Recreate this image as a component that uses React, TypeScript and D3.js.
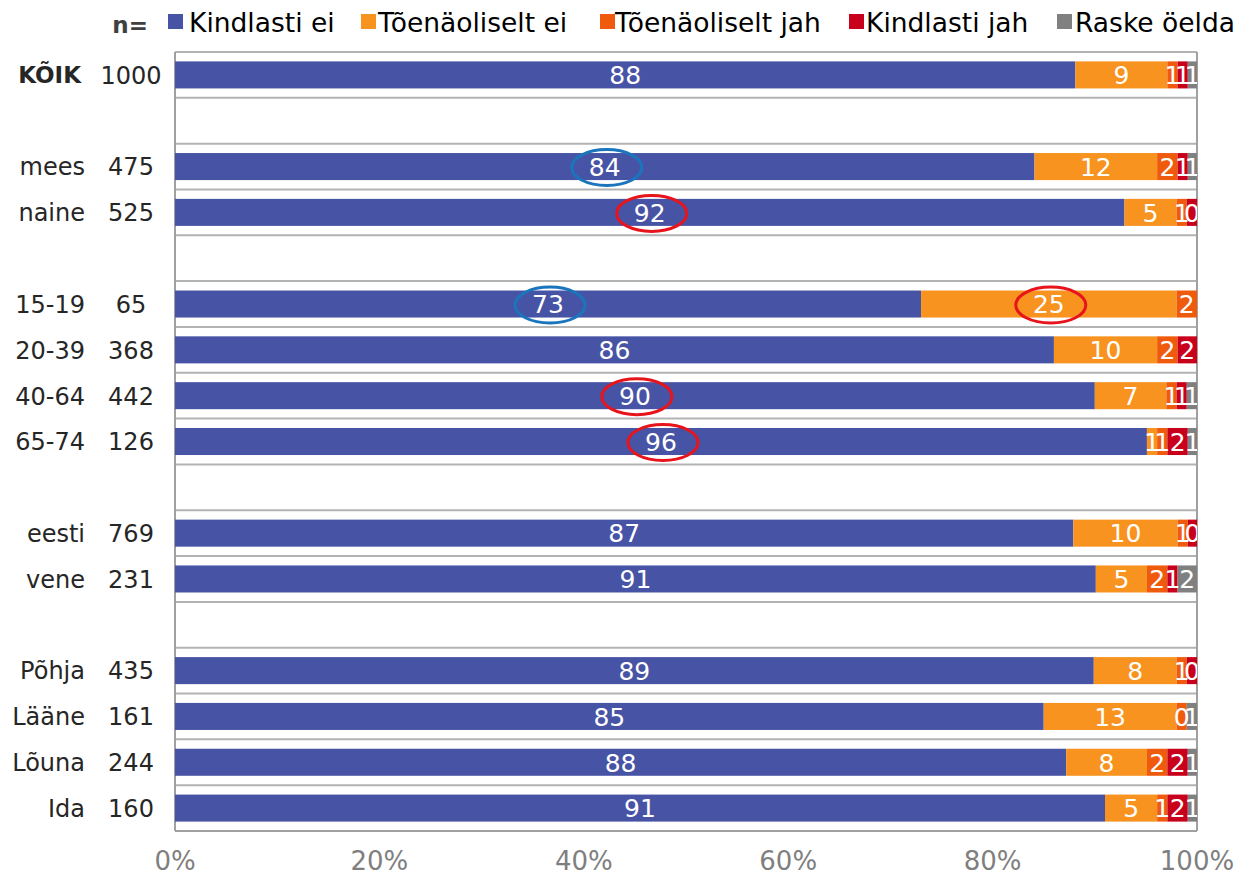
import React from "react";
import * as d3 from "d3";

const categories = ["KÕIK", "", "mees", "naine", "", "15-19", "20-39", "40-64", "65-74", "", "eesti", "vene", "", "Põhja", "Lääne", "Lõuna", "Ida"];
const nValues = ["1000", "", "475", "525", "", "65", "368", "442", "126", "", "769", "231", "", "435", "161", "244", "160"];

const seriesNames = ["Kindlasti ei", "Tõenäoliselt ei", "Tõenäoliselt jah", "Kindlasti jah", "Raske öelda"];
const seriesColors = ["#4754A5", "#F7931E", "#F05A0C", "#C9001C", "#808080"];

// estimated shares (segment widths)
const kindlastiEi = [88.1, null, 84.1, 92.9, null, 73.0, 86.0, 90.0, 95.1, null, 87.9, 90.1, null, 89.9, 85.0, 87.2, 91.0];
const toenaoliseltEi = [9.0, null, 12.0, 5.1, null, 25.0, 10.1, 7.0, 1.0, null, 10.2, 5.0, null, 8.1, 13.0, 7.9, 5.1];
const toenaoliseltJah = [1.0, null, 2.0, 1.0, null, 2.0, 2.0, 1.0, 1.0, null, 1.0, 2.0, null, 1.0, 1.0, 2.0, 1.0];
const kindlastiJah = [1.0, null, 1.0, 1.0, null, 0, 1.9, 1.0, 2.0, null, 0.9, 1.0, null, 1.0, 0, 2.0, 2.0];
const raskeOelda = [0.9, null, 0.9, 0, null, 0, 0, 1.0, 0.9, null, 0, 1.9, null, 0, 1.0, 0.9, 0.9];

// displayed data labels
const labelsKindlastiEi = ["88", "", "84", "92", "", "73", "86", "90", "96", "", "87", "91", "", "89", "85", "88", "91"];
const labelsToenaoliseltEi = ["9", "", "12", "5", "", "25", "10", "7", "1", "", "10", "5", "", "8", "13", "8", "5"];
const labelsToenaoliseltJah = ["1", "", "2", "1", "", "2", "2", "1", "1", "", "1", "2", "", "1", "0", "2", "1"];
const labelsKindlastiJah = ["1", "", "1", "0", "", "", "2", "1", "2", "", "0", "1", "", "0", "", "2", "2"];
const labelsRaskeOelda = ["1", "", "1", "", "", "", "", "1", "1", "", "", "2", "", "", "1", "1", "1"];

const xTicks = [0, 20, 40, 60, 80, 100];

const annotations = [
  { row: 2, series: 0, color: "#1B75BC" },
  { row: 5, series: 0, color: "#1B75BC" },
  { row: 3, series: 0, color: "#E8141B" },
  { row: 5, series: 1, color: "#E8141B" },
  { row: 7, series: 0, color: "#E8141B" },
  { row: 8, series: 0, color: "#E8141B" },
];

const W = 1241;
const H = 877;
const FONT = "'DejaVu Sans', Verdana, sans-serif";

export default function App() {
  const series = [kindlastiEi, toenaoliseltEi, toenaoliseltJah, kindlastiJah, raskeOelda];
  const labels = [labelsKindlastiEi, labelsToenaoliseltEi, labelsToenaoliseltJah, labelsKindlastiJah, labelsRaskeOelda];

  const left = 175;
  const right = 1197;
  const top = 52;
  const bottom = 831;

  const x = d3.scaleLinear().domain([0, 100]).range([left, right]);
  const y = d3
    .scaleBand<number>()
    .domain(d3.range(categories.length))
    .range([top, bottom])
    .paddingInner(0.41)
    .paddingOuter(0.205);
  const step = y.step();

  const segs: { row: number; s: number; x0: number; x1: number; label: string }[] = [];
  categories.forEach((_, i) => {
    if (series[0][i] == null) return;
    let acc = 0;
    series.forEach((arr, s) => {
      const v = (arr[i] as number) || 0;
      segs.push({ row: i, s, x0: acc, x1: acc + v, label: labels[s][i] });
      acc += v;
    });
  });

  const legendItems = [
    { sq: 168, tx: 189 },
    { sq: 361, tx: 378 },
    { sq: 600, tx: 615 },
    { sq: 849, tx: 866 },
    { sq: 1057, tx: 1075 },
  ];

  return (
    <svg width={W} height={H} style={{ position: "absolute", left: 0, top: 0, background: "#fff" }} fontFamily={FONT}>
      <defs>
        <clipPath id="plotClip">
          <rect x={left} y={top} width={right - left} height={bottom - top} />
        </clipPath>
      </defs>

      {/* legend */}
      <text x={148} y={33} fontSize={23} fontWeight="bold" fill="#404040" textAnchor="end">n=</text>
      {seriesNames.map((name, i) => (
        <g key={name}>
          <rect x={legendItems[i].sq} y={14} width={15} height={15} fill={seriesColors[i]} />
          <text x={legendItems[i].tx} y={32} fontSize={26.5} fill="#000">{name}</text>
        </g>
      ))}

      {/* gridlines / frame */}
      {d3.range(categories.length + 1).map((k) => (
        <line key={k} x1={left} x2={right} y1={top + k * step} y2={top + k * step} stroke="#B3B3B3" strokeWidth={2} />
      ))}
      <line x1={left} x2={left} y1={top} y2={bottom} stroke="#A0A0A0" strokeWidth={2} />
      <line x1={right} x2={right} y1={top} y2={bottom} stroke="#A0A0A0" strokeWidth={2} />
      <line x1={left} x2={right} y1={bottom} y2={bottom} stroke="#A0A0A0" strokeWidth={2} />

      {/* bars */}
      {segs.map((d, i) => (
        <rect
          key={"r" + i}
          x={x(d.x0)}
          y={y(d.row)}
          width={Math.max(0, x(d.x1) - x(d.x0))}
          height={y.bandwidth()}
          fill={seriesColors[d.s]}
        />
      ))}
      <g clipPath="url(#plotClip)">
        {segs
          .filter((d) => d.label !== "")
          .map((d, i) => (
            <text
              key={"t" + i}
              x={(x(d.x0) + x(d.x1)) / 2}
              y={(y(d.row) as number) + y.bandwidth() / 2}
              dy="0.37em"
              textAnchor="middle"
              fontSize={25}
              fill="#fff"
            >
              {d.label}
            </text>
          ))}
      </g>

      {/* annotations */}
      {annotations.map((a, i) => {
        const seg = segs.find((d) => d.row === a.row && d.s === a.series)!;
        return (
          <ellipse
            key={"e" + i}
            cx={(x(seg.x0) + x(seg.x1)) / 2 + 2}
            cy={(y(a.row) as number) + y.bandwidth() / 2 + 1}
            rx={35}
            ry={18}
            fill="none"
            stroke={a.color}
            strokeWidth={3}
          />
        );
      })}

      {/* category labels */}
      {categories.map((c, i) =>
        c ? (
          <g key={"c" + i}>
            <text
              x={i === 0 ? 81 : 85}
              y={(y(i) as number) + y.bandwidth() / 2}
              dy="0.37em"
              textAnchor="end"
              fontSize={i === 0 ? 23 : 24}
              fontWeight={i === 0 ? "bold" : "normal"}
              fill="#262626"
            >
              {c}
            </text>
            <text
              x={131}
              y={(y(i) as number) + y.bandwidth() / 2}
              dy="0.37em"
              textAnchor="middle"
              fontSize={24}
              fill="#262626"
            >
              {nValues[i]}
            </text>
          </g>
        ) : null
      )}

      {/* x axis ticks */}
      {xTicks.map((t) => (
        <text key={"x" + t} x={x(t)} y={870} textAnchor="middle" fontSize={26} fill="#7F7F7F">
          {t + "%"}
        </text>
      ))}
    </svg>
  );
}
